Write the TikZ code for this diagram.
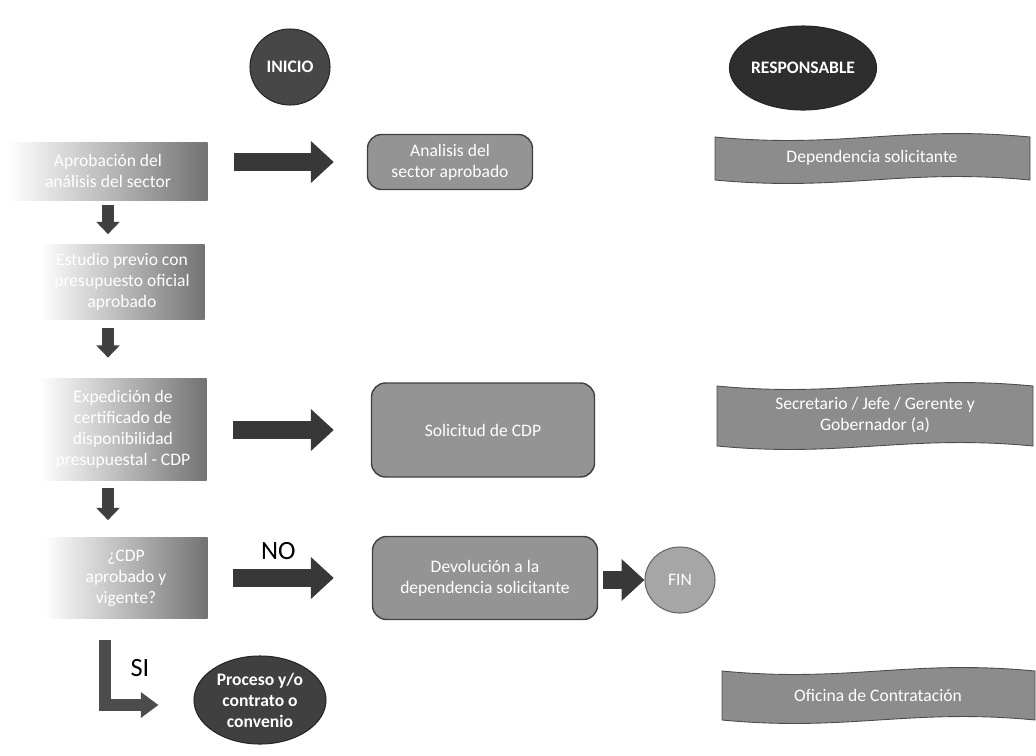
\documentclass[tikz,border=0pt]{standalone}
\usepackage{fontspec}
\setmainfont{Carlito}
\usetikzlibrary{arrows.meta,shapes.geometric}
\tikzset{
  lbox/.style={rectangle, left color=white, right color=black!55, draw=none,
    text=white, align=center, font=\fontsize{10}{12}\selectfont, inner sep=2pt},
  rbox/.style={rectangle, rounded corners=8pt, fill=black!42, draw=black!75, line width=0.8pt,
    text=white, align=center, font=\fontsize{10}{12}\selectfont},
  oval/.style={ellipse, draw=black!85, line width=0.6pt, text=white, align=center,
    font=\bfseries\fontsize{10}{12}\selectfont, inner sep=0pt},
  bnr/.style={fill=black!45, draw=black!70, line width=0.5pt},
  btext/.style={text=white, align=center, font=\fontsize{10}{12}\selectfont},
  bigarr/.style={draw=black!78, line width=10pt, -{Triangle[width=23pt,length=13pt]}},
  downarr/.style={draw=black!75, line width=7pt, -{Triangle[width=13pt,length=7pt]}},
}
\begin{document}
\begin{tikzpicture}[x=0.02cm,y=-0.02cm]
\useasboundingbox (0,0) rectangle (1036,755);

% ovals
\node[oval, fill=black!72, minimum width=80*0.02cm, minimum height=76*0.02cm] (inicio) at (290,67) {INICIO};
\node[oval, fill=black!82, minimum width=146*0.02cm, minimum height=84*0.02cm] (resp) at (803,68) {RESPONSABLE};

% left column boxes
\node[lbox, minimum width=199*0.02cm, minimum height=58*0.02cm] (b1) at (108,171) {Aprobación del\\análisis del sector};
\node[lbox, minimum width=165*0.02cm, minimum height=75*0.02cm] (b2) at (122,282) {Estudio previo con\\presupuesto oficial\\aprobado};
\node[lbox, minimum width=167*0.02cm, minimum height=102*0.02cm] (b3) at (123,429) {Expedición de\\certificado de\\disponibilidad\\presupuestal - CDP};
\node[lbox, minimum width=163*0.02cm, minimum height=81*0.02cm] (b4) at (126,578) {¿CDP\\aprobado y\\vigente?};

% middle boxes
\node[rbox, minimum width=165*0.02cm, minimum height=55*0.02cm] (anal) at (450,162) {Analisis del\\sector aprobado};
\node[rbox, minimum width=223*0.02cm, minimum height=94*0.02cm] (sol) at (483,430) {Solicitud de CDP};
\node[rbox, minimum width=225*0.02cm, minimum height=83*0.02cm] (dev) at (485,578) {Devolución a la\\dependencia solicitante};
\node[oval, fill=black!35, draw=black!60, font=\fontsize{10}{12}\selectfont, minimum width=70*0.02cm, minimum height=66*0.02cm] (fin) at (680,580) {FIN};
\node[oval, fill=black!75, minimum width=132*0.02cm, minimum height=88*0.02cm] (proc) at (260,700) {Proceso y/o\\contrato o\\convenio};

% banners
\draw[bnr] (715,137) .. controls (841,149) and (904,125) .. (1030,137) -- (1030,180)
  .. controls (904,168) and (841,192) .. (715,180) -- cycle;
\node[btext] (r1) at (872,158) {Dependencia solicitante};
\draw[bnr] (717,386) .. controls (843,398) and (907,374) .. (1033,386) -- (1033,446)
  .. controls (907,434) and (843,458) .. (717,446) -- cycle;
\node[btext] (r2) at (875,415) {Secretario / Jefe / Gerente y\\Gobernador (a)};
\draw[bnr] (722,671) .. controls (847,683) and (910,659) .. (1035,671) -- (1035,720)
  .. controls (910,708) and (847,732) .. (722,720) -- cycle;
\node[btext] (r3) at (878,695) {Oficina de Contratación};

% horizontal arrows
\draw[bigarr, shorten <=26*0.02cm, shorten >=33*0.02cm] (b1.east |- anal) -- (anal.west);
\draw[bigarr, shorten <=26*0.02cm, shorten >=37*0.02cm] (b3.east |- sol) -- (sol.west);
\draw[bigarr, shorten <=25*0.02cm, shorten >=38*0.02cm] (b4.east |- dev) -- (dev.west)
  node[pos=0.43, above=2pt, text=black, font=\fontsize{15}{18}\selectfont] (no) {NO};
\draw[bigarr, shorten <=5*0.02cm, shorten >=0*0.02cm] (dev.east |- fin) -- (fin.west);

% vertical arrows
\draw[downarr, shorten <=5*0.02cm, shorten >=10*0.02cm] (b1.south) -- (b1.south |- b2.north);
\draw[downarr, shorten <=8*0.02cm, shorten >=20*0.02cm] (b2.south -| b1.south) -- (b3.north -| b1.south);
\draw[downarr, shorten <=8*0.02cm, shorten >=17*0.02cm] (b3.south -| b1.south) -- (b4.north -| b1.south);

% SI arrow
\coordinate (sistart) at (105,618);
\draw[draw=black!70, line width=7pt, -{Triangle[width=14pt,length=10pt]}, shorten <=22*0.02cm, shorten >=35*0.02cm]
  (sistart) |- (proc.west |- 0,705);
\node[font=\fontsize{15}{18}\selectfont] (si) at (140,668) {SI};
\end{tikzpicture}
\end{document}
